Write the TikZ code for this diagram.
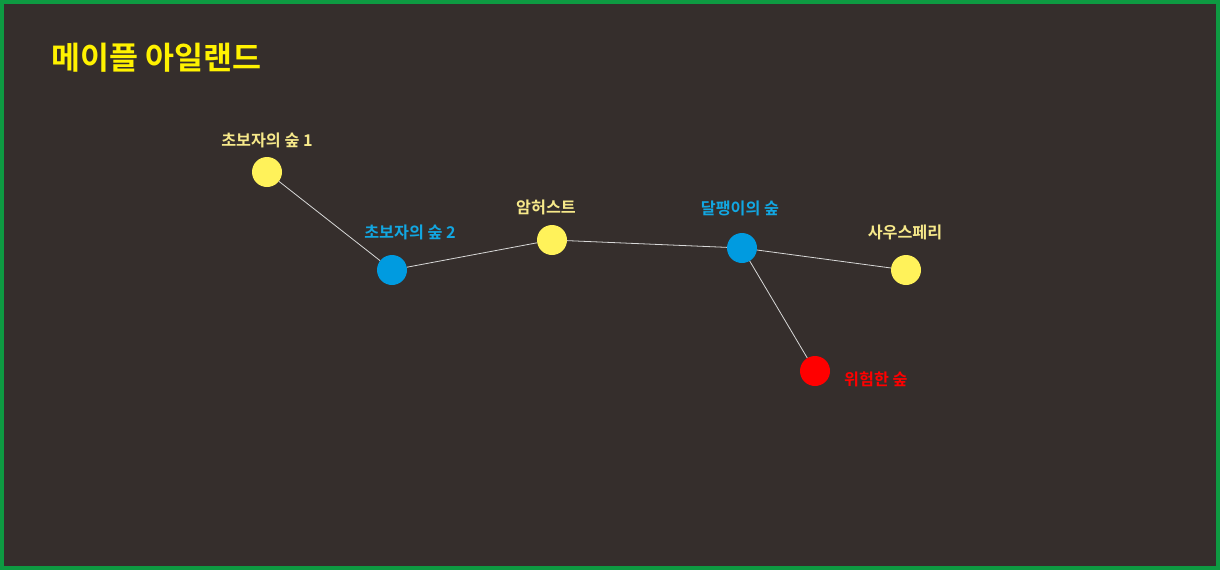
\documentclass[tikz,border=0pt]{standalone}
\usepackage{fontspec}
\setmainfont{Noto Sans CJK KR}[BoldFont={* Bold}]
\newfontfamily\kr{Noto Sans CJK KR Bold}
\definecolor{bg}{HTML}{352E2C}
\definecolor{frame}{HTML}{0E9A42}
\definecolor{ylw}{HTML}{FFF25A}
\definecolor{blu}{HTML}{009BE0}
\definecolor{rd}{HTML}{FF0000}
\definecolor{ylwtxt}{HTML}{F7E98A}
\definecolor{blutxt}{HTML}{12A7E2}
\definecolor{titletxt}{HTML}{FFF200}
\definecolor{edgecol}{HTML}{D8D8D8}
\tikzset{
  dot/.style={circle, minimum size=30pt, inner sep=0pt, draw=none},
  ydot/.style={dot, fill=ylw},
  bdot/.style={dot, fill=blu},
  rdot/.style={dot, fill=rd},
  lbl/.style={font=\kr\fontsize{16.2pt}{18pt}\selectfont, inner sep=0pt},
  edge/.style={draw=edgecol, line width=0.8pt}
}
\begin{document}
\begin{tikzpicture}[x=1pt,y=-1pt]
\useasboundingbox (0,0) rectangle (1220,570);
\fill[frame] (0,0) rectangle (1220,570);
\fill[bg] (4,4) rectangle (1216,566);
\node[font=\kr\fontsize{31.5pt}{34pt}\selectfont, text=titletxt, anchor=west, inner sep=0pt] (title) at (51,58) {메이플 아일랜드};
\node[ydot] (n1) at (267,172) {};
\node[bdot] (n2) at (392,270) {};
\node[ydot] (n3) at (552,240) {};
\node[bdot] (n4) at (742,248) {};
\node[ydot] (n5) at (906,270) {};
\node[rdot] (n6) at (815,371) {};
\draw[edge] (n1) -- (n2);
\draw[edge] (n2) -- (n3);
\draw[edge] (n3) -- (n4);
\draw[edge] (n4) -- (n5);
\draw[edge] (n4) -- (n6);
\node[lbl, text=ylwtxt] (l1) at (267,140) {초보자의 숲 1};
\node[lbl, text=blutxt] (l2) at (410,232) {초보자의 숲 2};
\node[lbl, text=ylwtxt] (l3) at (546,207) {암허스트};
\node[lbl, text=blutxt] (l4) at (740,208) {달팽이의 숲};
\node[lbl, text=ylwtxt] (l5) at (905,232) {사우스페리};
\node[lbl, text=rd, anchor=west] (l6) at (844,379) {위험한 숲};
\end{tikzpicture}
\end{document}
